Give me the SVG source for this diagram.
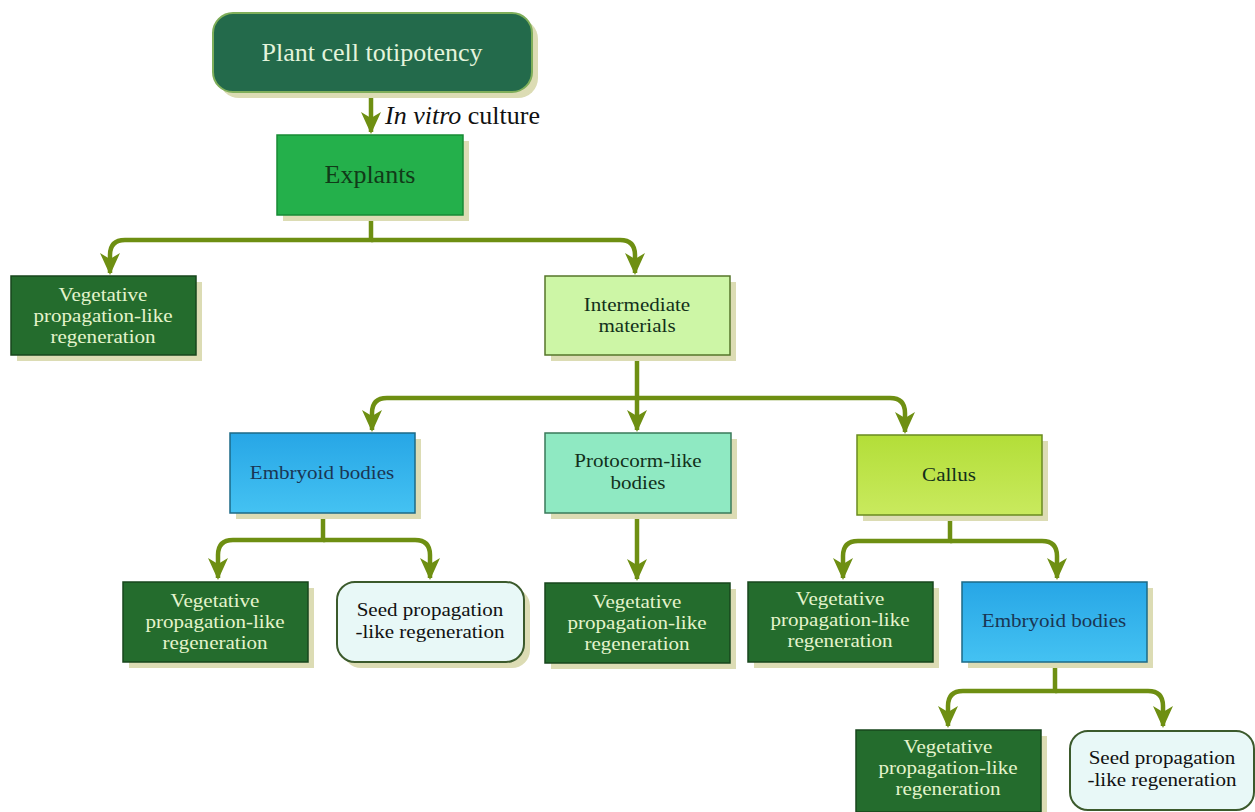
<svg xmlns="http://www.w3.org/2000/svg" width="1255" height="812" viewBox="0 0 1255 812">
<style>
text{font-family:"Liberation Serif","Times New Roman",serif;text-anchor:middle}
.sh{fill:#dcdcb4}
.veg{fill:#246c2d;stroke:#17461c;stroke-width:1.5}
.vegt{fill:#e4f4cc;font-size:18px}
.dk{fill:#12301a;font-size:18px}
.bl{fill:#1a3654;font-size:18px}
.seed{fill:#e8f8f7;stroke:#3b5a2c;stroke-width:2}
.blk{fill:#111;font-size:18px}
.con{fill:none;stroke:#6e8f12;stroke-width:4.5}
</style>
<defs>
<marker id="ah" viewBox="0 0 22 20" refX="20" refY="10" markerWidth="22" markerHeight="20" markerUnits="userSpaceOnUse" orient="auto">
<path d="M0,0 L22,10 L0,20 L6,10 Z" fill="#6e8f12"/>
</marker>
<linearGradient id="gb" x1="0" y1="0" x2="0" y2="1"><stop offset="0" stop-color="#27a6e6"/><stop offset="1" stop-color="#44c2f2"/></linearGradient>
<linearGradient id="gc" x1="0" y1="0" x2="0" y2="1"><stop offset="0" stop-color="#b3de38"/><stop offset="1" stop-color="#c9ea5e"/></linearGradient>
</defs>

<g id="connectors">
<path class="con" d="M371,92 V132" marker-end="url(#ah)"/>
<path class="con" d="M371,215 V240 H125 Q110,240 110,255 V273" marker-end="url(#ah)"/>
<path class="con" d="M371,240 H620 Q635,240 635,255 V273" marker-end="url(#ah)"/>
<path class="con" d="M637,355 V398 H387 Q372,398 372,413 V430" marker-end="url(#ah)"/>
<path class="con" d="M637,398 V430" marker-end="url(#ah)"/>
<path class="con" d="M637,398 H890 Q905,398 905,413 V432" marker-end="url(#ah)"/>
<path class="con" d="M323,513 V540 H233 Q218,540 218,555 V578" marker-end="url(#ah)"/>
<path class="con" d="M323,540 H415 Q430,540 430,555 V578" marker-end="url(#ah)"/>
<path class="con" d="M637,513 V579" marker-end="url(#ah)"/>
<path class="con" d="M950,515 V541 H858 Q843,541 843,556 V578" marker-end="url(#ah)"/>
<path class="con" d="M950,541 H1042 Q1057,541 1057,556 V578" marker-end="url(#ah)"/>
<path class="con" d="M1055,662 V691 H963 Q948,691 948,706 V726" marker-end="url(#ah)"/>
<path class="con" d="M1055,691 H1148 Q1163,691 1163,706 V726" marker-end="url(#ah)"/>
</g>
<text x="385" y="124" style="text-anchor:start;font-size:26px;fill:#111"><tspan font-style="italic">In vitro</tspan> culture</text>

<g id="n-top">
<rect class="sh" x="219" y="19" width="319" height="79" rx="20"/>
<rect x="213" y="13" width="319" height="79" rx="20" fill="#236a4b" stroke="#7fae5a" stroke-width="2"/>
<text x="372" y="61" style="font-size:26px;fill:#e4f4dc">Plant cell totipotency</text>
</g>

<g id="n-explants">
<rect class="sh" x="283" y="141" width="186" height="80"/>
<rect x="277" y="135" width="186" height="80" fill="#24b04b" stroke="#178a35" stroke-width="1.5"/>
<text x="370" y="183" style="font-size:26px;fill:#113a18">Explants</text>
</g>

<g id="n-veg1">
<rect class="sh" x="17" y="282" width="185" height="79"/>
<rect class="veg" x="11" y="276" width="185" height="79"/>
<g transform="translate(103,0) scale(1.17,1)">
<text class="vegt" x="0" y="301">Vegetative</text>
<text class="vegt" x="0" y="322">propagation-like</text>
<text class="vegt" x="0" y="343">regeneration</text>
</g>
</g>

<g id="n-intermediate">
<rect class="sh" x="551" y="282" width="185" height="79"/>
<rect x="545" y="276" width="185" height="79" fill="#cdf6a6" stroke="#55752a" stroke-width="1.5"/>
<g transform="translate(637,0) scale(1.17,1)">
<text class="dk" x="0" y="311">Intermediate</text>
<text class="dk" x="0" y="332">materials</text>
</g>
</g>

<g id="n-embryoid1">
<rect class="sh" x="236" y="439" width="185" height="80"/>
<rect x="230" y="433" width="185" height="80" fill="url(#gb)" stroke="#1d6a86" stroke-width="1.5"/>
<g transform="translate(322,0) scale(1.17,1)">
<text class="bl" x="0" y="479">Embryoid bodies</text>
</g>
</g>

<g id="n-protocorm">
<rect class="sh" x="551" y="439" width="186" height="80"/>
<rect x="545" y="433" width="186" height="80" fill="#8fe9c2" stroke="#3a7a5a" stroke-width="1.5"/>
<g transform="translate(638,0) scale(1.17,1)">
<text class="dk" x="0" y="467">Protocorm-like</text>
<text class="dk" x="0" y="489">bodies</text>
</g>
</g>

<g id="n-callus">
<rect class="sh" x="863" y="441" width="185" height="80"/>
<rect x="857" y="435" width="185" height="80" fill="url(#gc)" stroke="#6a8a20" stroke-width="1.5"/>
<g transform="translate(949,0) scale(1.17,1)">
<text class="dk" x="0" y="481">Callus</text>
</g>
</g>

<g id="n-veg2">
<rect class="sh" x="129" y="588" width="185" height="80"/>
<rect class="veg" x="123" y="582" width="185" height="80"/>
<g transform="translate(215,0) scale(1.17,1)">
<text class="vegt" x="0" y="607">Vegetative</text>
<text class="vegt" x="0" y="628">propagation-like</text>
<text class="vegt" x="0" y="649">regeneration</text>
</g>
</g>

<g id="n-seed1">
<rect class="sh" x="343" y="588" width="187" height="80" rx="18"/>
<rect class="seed" x="337" y="582" width="187" height="80" rx="18"/>
<g transform="translate(430,0) scale(1.17,1)">
<text class="blk" x="0" y="616">Seed propagation</text>
<text class="blk" x="0" y="638">-like regeneration</text>
</g>
</g>

<g id="n-veg3">
<rect class="sh" x="551" y="589" width="185" height="80"/>
<rect class="veg" x="545" y="583" width="185" height="80"/>
<g transform="translate(637,0) scale(1.17,1)">
<text class="vegt" x="0" y="608">Vegetative</text>
<text class="vegt" x="0" y="629">propagation-like</text>
<text class="vegt" x="0" y="650">regeneration</text>
</g>
</g>

<g id="n-veg4">
<rect class="sh" x="754" y="588" width="185" height="80"/>
<rect class="veg" x="748" y="582" width="185" height="80"/>
<g transform="translate(840,0) scale(1.17,1)">
<text class="vegt" x="0" y="605">Vegetative</text>
<text class="vegt" x="0" y="626">propagation-like</text>
<text class="vegt" x="0" y="647">regeneration</text>
</g>
</g>

<g id="n-embryoid2">
<rect class="sh" x="968" y="588" width="185" height="80"/>
<rect x="962" y="582" width="185" height="80" fill="url(#gb)" stroke="#1d6a86" stroke-width="1.5"/>
<g transform="translate(1054,0) scale(1.17,1)">
<text class="bl" x="0" y="627">Embryoid bodies</text>
</g>
</g>

<g id="n-veg5">
<rect class="sh" x="862" y="736" width="185" height="80"/>
<rect class="veg" x="856" y="730" width="185" height="82"/>
<g transform="translate(948,0) scale(1.17,1)">
<text class="vegt" x="0" y="753">Vegetative</text>
<text class="vegt" x="0" y="774">propagation-like</text>
<text class="vegt" x="0" y="795">regeneration</text>
</g>
</g>

<g id="n-seed2">
<rect class="seed" x="1070" y="731" width="184" height="79" rx="18"/>
<g transform="translate(1162,0) scale(1.17,1)">
<text class="blk" x="0" y="764">Seed propagation</text>
<text class="blk" x="0" y="786">-like regeneration</text>
</g>
</g>
</svg>
